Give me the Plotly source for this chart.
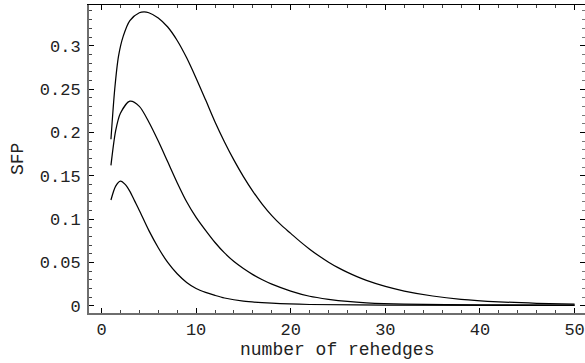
import plotly.graph_objects as go

# number of rehedges (x) and SFP values (y)
x_top = [1, 1.4, 1.8, 2.3, 3, 4, 4.5, 5, 6, 7, 8, 9, 10, 11, 12, 13, 14, 15, 16, 17, 18, 19, 20, 21, 22, 23, 24,
         25, 26, 27, 28, 30, 32, 35, 38, 42, 46, 50]
y_top = [0.192, 0.250, 0.288, 0.311, 0.329, 0.338, 0.339, 0.338, 0.332, 0.3215, 0.306, 0.286, 0.2625, 0.2375,
         0.212, 0.189, 0.168, 0.149, 0.132, 0.117, 0.104, 0.093, 0.0835, 0.074, 0.0653, 0.0574, 0.0503, 0.044,
         0.0385, 0.0336, 0.0293, 0.0223, 0.017, 0.0113, 0.0075, 0.0046, 0.0029, 0.0019]

x_mid = [1, 1.5, 2, 3, 4, 5, 6, 7, 8, 9, 10, 11, 12, 13, 14, 15, 16, 17, 18, 20, 22, 24, 26, 28, 32, 40, 50]
y_mid = [0.162, 0.202, 0.222, 0.236, 0.230, 0.212, 0.190, 0.166, 0.142, 0.120, 0.102, 0.087, 0.073, 0.061, 0.051,
         0.043, 0.036, 0.030, 0.025, 0.017, 0.011, 0.0075, 0.005, 0.0035, 0.002, 0.0012, 0.0008]

x_low = [1, 1.5, 2, 2.5, 3, 3.5, 4, 5, 6, 7, 8, 9, 10, 11, 12, 13, 15, 18, 22, 30, 50]
y_low = [0.122, 0.138, 0.1437, 0.140, 0.132, 0.121, 0.110, 0.087, 0.067, 0.050, 0.037, 0.027, 0.020, 0.0155,
         0.012, 0.009, 0.0053, 0.003, 0.0015, 0.0008, 0.0005]

x_ticks = [0, 10, 20, 30, 40, 50]
y_ticks = [0, 0.05, 0.1, 0.15, 0.2, 0.25, 0.3]
y_tick_text = ["0", "0.05", "0.1", "0.15", "0.2", "0.25", "0.3"]

x_title = "number of rehedges"
y_title = "SFP"

FONT = "Liberation Mono, Courier New, monospace"
XR = [-1.32, 51.1]
YR = [-0.0083, 0.3469]

fig = go.Figure()
for xs, ys in [(x_top, y_top), (x_mid, y_mid), (x_low, y_low)]:
    fig.add_trace(go.Scatter(x=xs, y=ys, mode="lines",
                             line=dict(color="black", width=1.25, shape="spline", smoothing=0.8),
                             showlegend=False, hoverinfo="skip"))
# dummy trace to register the mirrored (top/right) axes
fig.add_trace(go.Scatter(x=[None], y=[None], xaxis="x2", yaxis="y2", showlegend=False))

common_tick = dict(ticks="inside", ticklen=5, tickwidth=1, tickcolor="black",
                   showgrid=False, zeroline=False)

fig.update_layout(
    width=585, height=363,
    margin=dict(l=89, r=0, t=5, b=50),
    plot_bgcolor="white", paper_bgcolor="white",
    xaxis=dict(range=XR, tickvals=x_ticks, showline=True, linecolor="#6e6e6e", linewidth=2,
               minor=dict(ticks="inside", ticklen=3, dtick=2, tick0=0, tickcolor="#444", showgrid=False),
               tickfont=dict(family=FONT, size=17, color="#222"), **common_tick),
    yaxis=dict(range=YR, tickvals=y_ticks, ticktext=y_tick_text, showline=True, linecolor="#6e6e6e", linewidth=2,
               minor=dict(ticks="inside", ticklen=3, dtick=0.01, tick0=0, tickcolor="#444", showgrid=False),
               tickfont=dict(family=FONT, size=17, color="#222"), ticklabelstandoff=3, **common_tick),
    xaxis2=dict(range=XR, overlaying="x", side="top", anchor="y2", tickvals=x_ticks, showticklabels=False,
                showline=True, linecolor="black", linewidth=1,
                minor=dict(ticks="inside", ticklen=3, dtick=2, tick0=0, tickcolor="#444", showgrid=False),
                **common_tick),
    yaxis2=dict(range=YR, overlaying="y", side="right", anchor="x2", tickvals=y_ticks, showticklabels=False,
                showline=False,
                minor=dict(ticks="inside", ticklen=3, dtick=0.01, tick0=0, tickcolor="#777", showgrid=False),
                **common_tick),
    annotations=[
        dict(text=x_title, xref="paper", yref="paper", x=0.5, y=0, yshift=-37, showarrow=False,
             xanchor="center", yanchor="middle", font=dict(family=FONT, size=18, color="#222")),
        dict(text=y_title, xref="paper", yref="paper", x=0, y=0.5, xshift=-71, showarrow=False,
             textangle=-90, xanchor="center", yanchor="middle", font=dict(family=FONT, size=18, color="#222")),
    ],
)

fig.write_html("out.html")
